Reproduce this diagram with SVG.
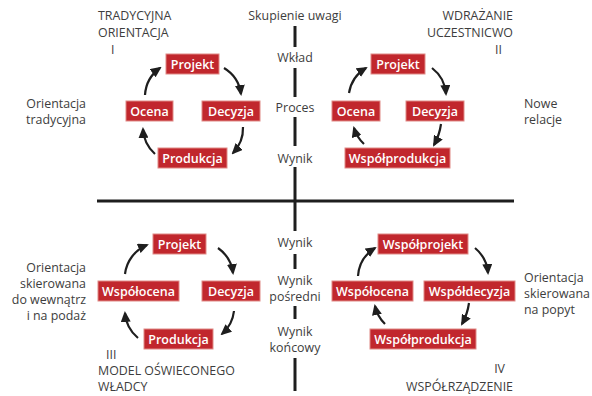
<svg xmlns="http://www.w3.org/2000/svg" width="592" height="396" viewBox="0 0 592 396">
<style>
.lbl{font-family:"Open Sans","DejaVu Sans",sans-serif;font-size:12.4px;fill:#3d3d3d}
.ax{font-family:"Open Sans","DejaVu Sans",sans-serif;font-size:12.4px;fill:#3d3d3d;text-anchor:middle}
.box rect{fill:#c1272d;stroke:#e08a86;stroke-width:1}
.box text{font-family:"Open Sans","DejaVu Sans",sans-serif;font-size:12.5px;font-weight:600;fill:#ffffff;text-anchor:middle}
.arr{fill:none;stroke:#1e1e1e;stroke-width:2.2;marker-end:url(#ah)}
.axis{stroke:#1e1e1e;stroke-width:3;fill:none}
</style>
<defs>
<marker id="ah" markerUnits="userSpaceOnUse" markerWidth="11" markerHeight="10" viewBox="0 0 11 10" refX="9" refY="5" orient="auto">
<path d="M0,0 L11,5 L0,10 z" fill="#1e1e1e"/>
</marker>
</defs>
<rect width="592" height="396" fill="#ffffff"/>
<g id="axes">
<path class="axis" d="M97,201 H514"/>
<path class="axis" d="M295,26 V47 M295,68 V97 M295,117 V146 M295,167 V231 M295,254 V269 M295,306 V319 M295,358 V391"/>
</g>
<g id="axis-labels">
<text class="ax" x="295" y="20">Skupienie uwagi</text>
<text class="ax" x="295" y="62">Wkład</text>
<text class="ax" x="295" y="112">Proces</text>
<text class="ax" x="295" y="163">Wynik</text>
<text class="ax" x="295" y="247">Wynik</text>
<text class="ax" x="295" y="285">Wynik</text>
<text class="ax" x="295" y="301">pośredni</text>
<text class="ax" x="295" y="336">Wynik</text>
<text class="ax" x="295" y="352">końcowy</text>
</g>
<g id="quadrant-labels">
<text class="lbl" x="98" y="20">TRADYCYJNA</text>
<text class="lbl" x="98" y="37">ORIENTACJA</text>
<text class="lbl" x="111" y="54">I</text>
<text class="lbl" x="513" y="20" text-anchor="end">WDRAŻANIE</text>
<text class="lbl" x="513" y="37" text-anchor="end">UCZESTNICWO</text>
<text class="lbl" x="502" y="54" text-anchor="end">II</text>
<text class="lbl" x="106" y="359">III</text>
<text class="lbl" x="98" y="375">MODEL OŚWIECONEGO</text>
<text class="lbl" x="98" y="391">WŁADCY</text>
<text class="lbl" x="505" y="373" text-anchor="end">IV</text>
<text class="lbl" x="513" y="391" text-anchor="end">WSPÓŁRZĄDZENIE</text>
<text class="lbl" x="86" y="108" text-anchor="end">Orientacja</text>
<text class="lbl" x="86" y="124" text-anchor="end">tradycyjna</text>
<text class="lbl" x="524" y="108">Nowe</text>
<text class="lbl" x="524" y="124">relacje</text>
<text class="lbl" x="86" y="272" text-anchor="end">Orientacja</text>
<text class="lbl" x="86" y="288" text-anchor="end">skierowana</text>
<text class="lbl" x="86" y="304" text-anchor="end">do wewnątrz</text>
<text class="lbl" x="86" y="320" text-anchor="end">i na podaż</text>
<text class="lbl" x="524" y="282">Orientacja</text>
<text class="lbl" x="524" y="298">skierowana</text>
<text class="lbl" x="524" y="314">na popyt</text>
</g>
<g id="q1-projekt" class="box"><rect x="166" y="54" width="53" height="20"/><text x="192.5" y="68.5">Projekt</text></g>
<g id="q1-ocena" class="box"><rect x="126" y="101" width="47" height="20"/><text x="149.5" y="115.5">Ocena</text></g>
<g id="q1-decyzja" class="box"><rect x="202" y="101" width="58" height="20"/><text x="231" y="115.5">Decyzja</text></g>
<g id="q1-produkcja" class="box"><rect x="158" y="148" width="69" height="20"/><text x="192.5" y="162.5">Produkcja</text></g>
<g id="q2-projekt" class="box"><rect x="371" y="54" width="54" height="20"/><text x="398" y="68.5">Projekt</text></g>
<g id="q2-ocena" class="box"><rect x="332" y="101" width="48" height="20"/><text x="356" y="115.5">Ocena</text></g>
<g id="q2-decyzja" class="box"><rect x="406" y="101" width="58" height="20"/><text x="435" y="115.5">Decyzja</text></g>
<g id="q2-wspolprodukcja" class="box"><rect x="345" y="148" width="105" height="20"/><text x="397.5" y="162.5">Współprodukcja</text></g>
<g id="q3-projekt" class="box"><rect x="153" y="234" width="53" height="20"/><text x="179.5" y="248.5">Projekt</text></g>
<g id="q3-wspolocena" class="box"><rect x="98" y="281" width="81" height="20"/><text x="138.5" y="295.5">Współocena</text></g>
<g id="q3-decyzja" class="box"><rect x="202" y="281" width="58" height="20"/><text x="231" y="295.5">Decyzja</text></g>
<g id="q3-produkcja" class="box"><rect x="144" y="329" width="69" height="20"/><text x="178.5" y="343.5">Produkcja</text></g>
<g id="q4-wspolprojekt" class="box"><rect x="378" y="234" width="90" height="20"/><text x="423" y="248.5">Współprojekt</text></g>
<g id="q4-wspolocena" class="box"><rect x="332" y="281" width="81" height="20"/><text x="372.5" y="295.5">Współocena</text></g>
<g id="q4-wspoldecyzja" class="box"><rect x="424" y="281" width="91" height="20"/><text x="469.5" y="295.5">Współdecyzja</text></g>
<g id="q4-wspolprodukcja" class="box"><rect x="370" y="329" width="106" height="20"/><text x="423" y="343.5">Współprodukcja</text></g>
<g id="connectors">
<path class="arr" d="M224,68 A36,36 0 0 1 241,94"/>
<path class="arr" d="M243,127 A36,36 0 0 1 233,153"/>
<path class="arr" d="M155,154 A36,36 0 0 1 143,129"/>
<path class="arr" d="M145,95 A36,36 0 0 1 160,68"/>
<path class="arr" d="M432,68 A36,36 0 0 1 446,94"/>
<path class="arr" d="M441,124 A60,60 0 0 1 434,145"/>
<path class="arr" d="M364,144 A36,36 0 0 1 354,128"/>
<path class="arr" d="M349,93 A36,36 0 0 1 366,68"/>
<path class="arr" d="M218,248 A36,36 0 0 1 233,273"/>
<path class="arr" d="M234,311 A36,36 0 0 1 222,334"/>
<path class="arr" d="M138,338 A36,36 0 0 1 125,313"/>
<path class="arr" d="M125,274 A36,36 0 0 1 147,245"/>
<path class="arr" d="M475,248 A36,36 0 0 1 488,273"/>
<path class="arr" d="M469,303 A60,60 0 0 1 462,324"/>
<path class="arr" d="M385,324 A36,36 0 0 1 375,306"/>
<path class="arr" d="M358,276 A36,36 0 0 1 375,248"/>
</g>
</svg>
